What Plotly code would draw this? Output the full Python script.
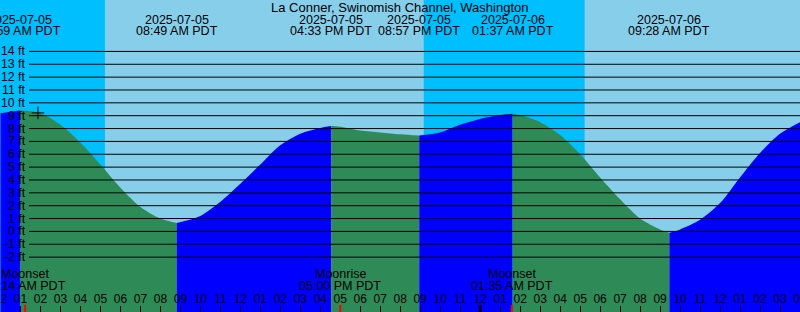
import plotly.graph_objects as go

# ---------------- data (hours after 2025-07-05 00:00 PDT, feet) ----------------
title_text = "La Conner, Swinomish Channel, Washington"

sample_hours = [0, 0.983, 2, 3, 4, 5, 6, 7, 8, 8.817, 10, 11, 12, 13, 14, 15, 16,
                16.55, 17, 18, 19, 20, 20.95, 22, 23, 24, 25, 25.617, 26, 27, 28,
                29, 30, 31, 32, 33, 33.467, 34, 35, 36, 37, 38, 39, 40]
sample_feet = [9.2, 9.4, 9.2, 8.3, 6.9, 5.2, 3.4, 1.9, 1.0, 0.65, 1.2, 2.3, 3.7,
               5.2, 6.7, 7.6, 8.05, 8.2, 8.15, 7.85, 7.7, 7.55, 7.45, 7.7, 8.3,
               8.75, 9.05, 9.15, 9.05, 8.5, 7.5, 6.0, 4.2, 2.5, 1.0, 0.15, -0.1,
               0.15, 0.9, 2.2, 4.2, 6.1, 7.6, 8.5]

event_hours = [0.983, 8.817, 16.55, 20.95, 25.617, 33.467, 41.35]
event_dates = ["2025-07-05", "2025-07-05", "2025-07-05", "2025-07-05",
               "2025-07-06", "2025-07-06", "2025-07-06"]
event_times = ["12:59 AM PDT", "08:49 AM PDT", "04:33 PM PDT", "08:57 PM PDT",
               "01:37 AM PDT", "09:28 AM PDT", "05:21 PM PDT"]

moon_hours = [1.233, 17.0, 25.583]
moon_names = ["Moonset", "Moonrise", "Moonset"]
moon_times = ["01:14 AM PDT", "05:00 PM PDT", "01:35 AM PDT"]

night_starts = [-1.0, 21.175]
night_ends = [5.225, 29.225]

now_hour = [1.875]
now_feet = [9.22]

feet_levels = list(range(-2, 15))
tick_hours = list(range(0, 41))
tick_labels = ["%02d" % ((h % 12) or 12) for h in tick_hours]
midnight_hours = [24]

# ---------------- style ----------------
DAY = "#87CEEB"
NIGHT = "#00BFFF"
FLOOD = "#0000FF"
EBB = "#2E8B57"
FONT = "Liberation Sans, Arial, sans-serif"
H = 312.0
XR = [-0.025, 40.0]

fig = go.Figure()

# water fill, split at highs and lows
split_idx = [0] + [sample_hours.index(t) for t in event_hours if t in sample_hours] + [len(sample_hours) - 1]
split_idx = sorted(set(split_idx))
for a, b in zip(split_idx[:-1], split_idx[1:]):
    xs = sample_hours[a:b + 1]
    ys = sample_feet[a:b + 1]
    color = FLOOD if ys[-1] > ys[0] else EBB
    fig.add_trace(go.Scatter(x=xs, y=[-20] * len(xs), mode="lines",
                             line=dict(width=0), hoverinfo="skip", showlegend=False))
    fig.add_trace(go.Scatter(x=xs, y=ys, mode="lines", fill="tonexty",
                             fillcolor=color, line=dict(width=0, shape="spline", smoothing=0.8),
                             hoverinfo="skip", showlegend=False))

fig.add_trace(go.Scatter(x=now_hour, y=now_feet, mode="markers", xaxis="x2",
                         marker=dict(symbol="cross-thin", size=9,
                                     line=dict(width=1, color="black")),
                         showlegend=False, hoverinfo="skip"))

shapes = []
for s, e in zip(night_starts, night_ends):
    shapes.append(dict(type="rect", xref="x", yref="paper", x0=s, x1=e, y0=0, y1=1,
                       fillcolor=NIGHT, line=dict(width=0), layer="below"))
for v in feet_levels:
    shapes.append(dict(type="line", xref="paper", yref="y", x0=29 / 800, x1=1,
                       y0=v, y1=v, line=dict(color="black", width=1), layer="above"))
for m in midnight_hours:
    shapes.append(dict(type="line", xref="x", yref="paper", x0=m, x1=m,
                       y0=0, y1=7 / H, line=dict(color="black", width=3), layer="above"))
for m in moon_hours:
    shapes.append(dict(type="line", xref="x", yref="paper", x0=m, x1=m,
                       y0=0, y1=7 / H, line=dict(color="red", width=2), layer="above"))

ann = []
ann.append(dict(text=title_text, xref="paper", yref="paper", x=0.5, y=1 - 7.5 / H,
                showarrow=False, xanchor="center", yanchor="middle",
                font=dict(size=13)))
for t, d, tm in zip(event_hours, event_dates, event_times):
    ann.append(dict(text=d, xref="x", yref="paper", x=t, y=1 - 19.5 / H,
                    showarrow=False, xanchor="center", yanchor="middle"))
    ann.append(dict(text=tm, xref="x", yref="paper", x=t, y=1 - 31.5 / H,
                    showarrow=False, xanchor="center", yanchor="middle"))
for t, n, tm in zip(moon_hours, moon_names, moon_times):
    ann.append(dict(text=n, xref="x", yref="paper", x=t, y=1 - 273.5 / H,
                    showarrow=False, xanchor="center", yanchor="middle"))
    ann.append(dict(text=tm, xref="x", yref="paper", x=t, y=1 - 286 / H,
                    showarrow=False, xanchor="center", yanchor="middle"))
for v in feet_levels:
    ann.append(dict(text="%d ft" % v, xref="paper", yref="y", x=27.5 / 800, y=v,
                    showarrow=False, xanchor="right", yanchor="middle",
                    font=dict(size=12.3)))

fig.update_layout(
    width=800, height=312,
    margin=dict(l=0, r=0, t=0, b=0, pad=0, autoexpand=False),
    paper_bgcolor=DAY, plot_bgcolor=DAY,
    font=dict(family=FONT, size=12.5, color="black"),
    showlegend=False,
    shapes=shapes, annotations=ann,
    xaxis=dict(range=XR, showgrid=False, zeroline=False, showline=False,
               showticklabels=False, ticks="", automargin=False),
    xaxis2=dict(range=XR, overlaying="x", anchor="free", position=7 / H, side="top",
                showgrid=False, zeroline=False, showline=False, automargin=False,
                tickmode="array", tickvals=tick_hours, ticktext=tick_labels,
                ticks="inside", ticklen=7, tickwidth=1, tickcolor="black",
                ticklabeloverflow="allow",
                tickfont=dict(family=FONT, size=12, color="black")),
    yaxis=dict(range=[-6.27, 18.0], showgrid=False, zeroline=False, showline=False,
               showticklabels=False, ticks="", automargin=False),
)

fig.write_html("out.html")
